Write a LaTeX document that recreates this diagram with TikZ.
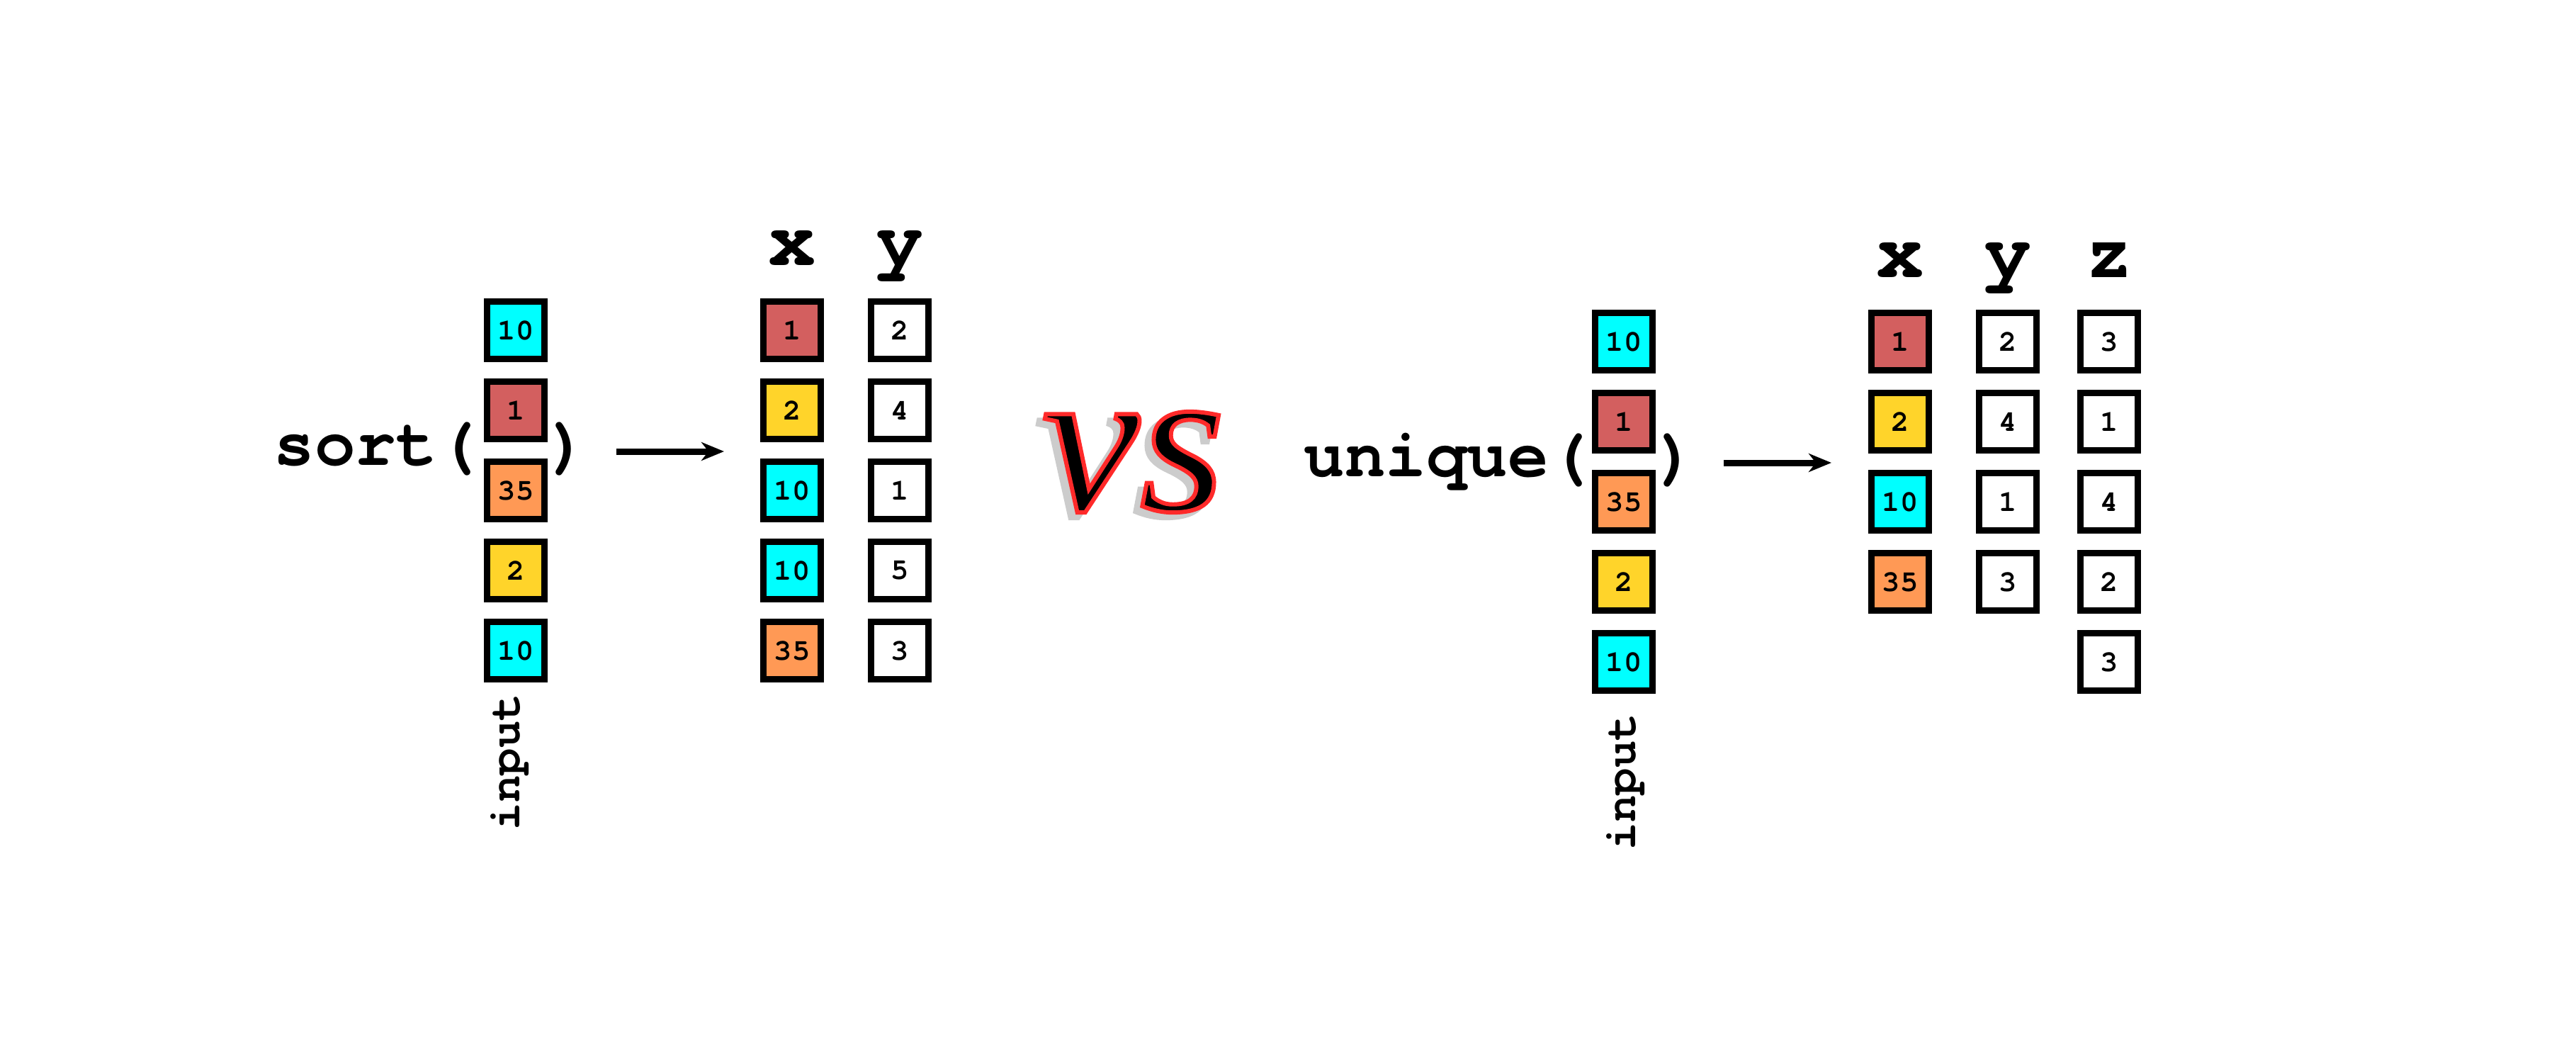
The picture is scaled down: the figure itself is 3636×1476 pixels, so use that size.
\documentclass[tikz,border=0pt]{standalone}
\usepackage{fontspec}
\setmainfont{Liberation Serif}
\setmonofont{TeX Gyre Cursor}
\newfontface\vsfont{Liberation Serif Italic}[FakeBold=2, FakeStretch=1.05]
\usetikzlibrary{positioning, arrows.meta}

\definecolor{cellred}{HTML}{D35F5F}
\definecolor{cellorange}{HTML}{FF9955}
\definecolor{cellyellow}{HTML}{FFD42A}
\definecolor{cellcyan}{HTML}{00FFFF}
\definecolor{vsgrey}{HTML}{CCCCCC}
% red outline round the black letters
\newcommand{\redoutline}[1]{\special{pdf:code q 1 0.165 0.165 RG}#1\special{pdf:code Q}}

\tikzstyle{cell} = [
    rectangle,
    minimum width=40.5pt,
    minimum height=40.5pt,
    inner sep=0pt,
    line width=4.5pt,
    draw=black,
    fill=white,
    font=\ttfamily\bfseries\fontsize{21}{21}\selectfont
]
\tikzstyle{funcname} = [
    inner sep=0pt,
    font=\ttfamily\bfseries\fontsize{48}{48}\selectfont
]
\tikzstyle{colname} = [
    inner sep=0pt,
    anchor=base,
    font=\ttfamily\bfseries\fontsize{56}{56}\selectfont
]
\tikzstyle{inputlabel} = [
    inner sep=0pt,
    rotate=90,
    anchor=base,
    font=\ttfamily\bfseries\fontsize{32}{32}\selectfont
]
\tikzstyle{vstext} = [
    inner sep=0pt,
    font=\vsfont\fontsize{148}{148}\selectfont
]
\tikzstyle{arrow} = [line width=4.5pt,-{Stealth[length=16pt,width=13pt,inset=5pt]}]

\begin{document}
\begin{tikzpicture}[x=0.5pt, y=-0.5pt, node distance=56.5pt]

\useasboundingbox (0,0) rectangle (3636,1476);

% sort
\node (sortfn) [funcname, anchor=base east] at (675,656) {sort(};

\node (sin1) [cell, fill=cellcyan] at (728,466) {10};
\node (sin2) [cell, fill=cellred, below of=sin1] {1};
\node (sin3) [cell, fill=cellorange, below of=sin2] {35};
\node (sin4) [cell, fill=cellyellow, below of=sin3] {2};
\node (sin5) [cell, fill=cellcyan, below of=sin4] {10};

\node (sortclose) [funcname, anchor=base west] at (773,656) {)};
\node (sinlabel) [inputlabel] at (733,1075) {input};

\coordinate (sarrowtail) at (870,637);
\coordinate (sarrowtip) at (1022,637);
\draw [arrow] (sarrowtail) -- (sarrowtip);

\node (sxhead) [colname] at (1118,375) {x};
\node (sx1) [cell, fill=cellred] at (1118,466) {1};
\node (sx2) [cell, fill=cellyellow, below of=sx1] {2};
\node (sx3) [cell, fill=cellcyan, below of=sx2] {10};
\node (sx4) [cell, fill=cellcyan, below of=sx3] {10};
\node (sx5) [cell, fill=cellorange, below of=sx4] {35};

\node (syhead) [colname] at (1270,375) {y};
\node (sy1) [cell] at (1270,466) {2};
\node (sy2) [cell, below of=sy1] {4};
\node (sy3) [cell, below of=sy2] {1};
\node (sy4) [cell, below of=sy3] {5};
\node (sy5) [cell, below of=sy4] {3};

% vs
\node (vsshadow) [vstext, text=vsgrey] at (1590,660) {vs};
\node (vs) [vstext] at (1600,652) {\redoutline{vs}};

% unique
\node (uniquefn) [funcname, anchor=base east] at (2244,672) {unique(};

\node (uin1) [cell, fill=cellcyan] at (2292,482) {10};
\node (uin2) [cell, fill=cellred, below of=uin1] {1};
\node (uin3) [cell, fill=cellorange, below of=uin2] {35};
\node (uin4) [cell, fill=cellyellow, below of=uin3] {2};
\node (uin5) [cell, fill=cellcyan, below of=uin4] {10};

\node (uniqueclose) [funcname, anchor=base west] at (2337,672) {)};
\node (uinlabel) [inputlabel] at (2308,1103) {input};

\coordinate (uarrowtail) at (2433,653);
\coordinate (uarrowtip) at (2585,653);
\draw [arrow] (uarrowtail) -- (uarrowtip);

\node (uxhead) [colname] at (2682,392) {x};
\node (ux1) [cell, fill=cellred] at (2682,482) {1};
\node (ux2) [cell, fill=cellyellow, below of=ux1] {2};
\node (ux3) [cell, fill=cellcyan, below of=ux2] {10};
\node (ux4) [cell, fill=cellorange, below of=ux3] {35};

\node (uyhead) [colname] at (2834,392) {y};
\node (uy1) [cell] at (2834,482) {2};
\node (uy2) [cell, below of=uy1] {4};
\node (uy3) [cell, below of=uy2] {1};
\node (uy4) [cell, below of=uy3] {3};

\node (uzhead) [colname] at (2977,392) {z};
\node (uz1) [cell] at (2977,482) {3};
\node (uz2) [cell, below of=uz1] {1};
\node (uz3) [cell, below of=uz2] {4};
\node (uz4) [cell, below of=uz3] {2};
\node (uz5) [cell, below of=uz4] {3};

\end{tikzpicture}
\end{document}
